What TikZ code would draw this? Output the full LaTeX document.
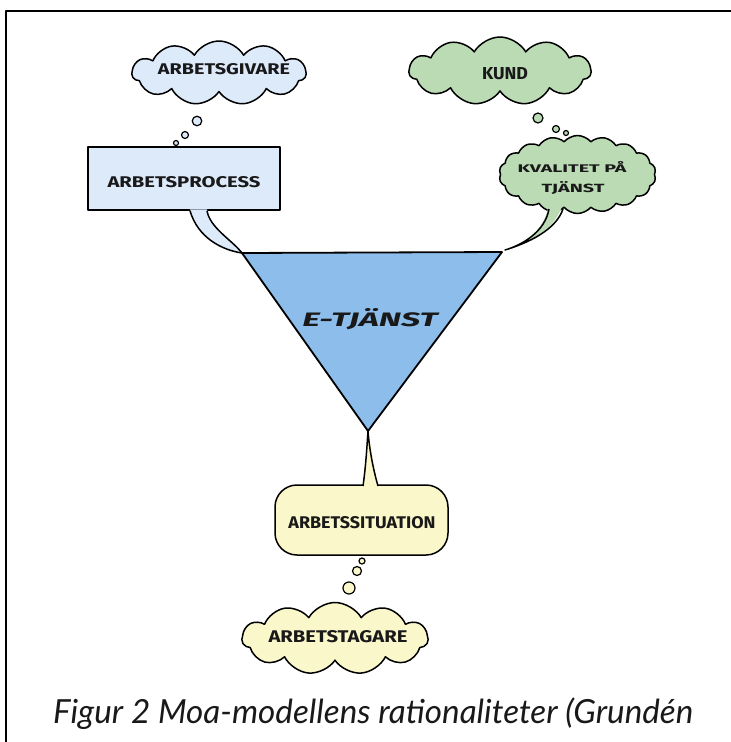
\documentclass[tikz,border=0pt]{standalone}
\usepackage{fontspec}
\usetikzlibrary{shapes.symbols,shapes.geometric,calc}
\newfontfamily\comicfont{Fira Sans}
\newfontfamily\capfont{Lato}
\definecolor{lblue}{RGB}{221,234,250}
\definecolor{mblue}{RGB}{140,189,235}
\definecolor{lgreen}{RGB}{187,219,180}
\definecolor{lyellow}{RGB}{250,247,202}
\newcommand{\lbl}[3]{\resizebox{#1pt}{#2pt}{\comicfont\bfseries #3}}
\begin{document}
\begin{tikzpicture}[x=1pt,y=-1pt,line join=round,
  outl/.style={draw=black,line width=1.5pt},
  cloudbox/.style={cloud,cloud ignores aspect,cloud puffs=#1,cloud puff arc=120,outl,inner sep=0pt},
  bub/.style={circle,draw=black,line width=1.2pt,inner sep=0pt},
  txt/.style={inner sep=0pt,text=black!90}]
\useasboundingbox (0,0) rectangle (731,742);
\draw[line width=2pt] (6,742) -- (6,11) -- (731,11);

% triangle
\coordinate (tA) at (242,253);
\coordinate (tB) at (502,252);
\coordinate (tC) at (368,431);

% ---- left: Arbetsgivare / Arbetsprocess
\node[cloudbox=11,fill=lblue,minimum width=174pt,minimum height=64pt] (cgiv) at (219,73) {};
\node[txt] (tgiv) at (224,69) {\lbl{132}{11}{ARBETSGIVARE}};
\node[bub,fill=lblue,minimum size=9.5pt] (g1) at (197,121) {};
\node[bub,fill=lblue,minimum size=7pt] (g2) at (185,135) {};
\node[bub,fill=lblue,minimum size=5pt] (g3) at (176,143) {};

\node[outl,fill=lblue,minimum width=192pt,minimum height=63pt,inner sep=0pt] (proc) at (184,178.5) {};
\node[txt] (tproc) at (184,182) {\lbl{153}{11}{ARBETSPROCESS}};
\coordinate (pl) at ($(proc.south)+(6,-1.5)$);
\coordinate (pr) at ($(proc.south)+(23,-1.5)$);
\fill[lblue] (pl) .. controls (198,238) and (222,250) .. (tA) .. controls (232,240) and (210,228) .. (pr) -- cycle;
\draw[outl] ($(pl)+(0,1.5)$) .. controls (198,238) and (222,250) .. (tA) .. controls (232,240) and (210,228) .. ($(pr)+(0,1.5)$);

% ---- right: Kund / Kvalitet
\node[cloudbox=11,fill=lgreen,minimum width=182pt,minimum height=68pt] (ckund) at (500,71) {};
\node[txt] (tkund) at (505,74) {\lbl{46}{12}{KUND}};
\node[bub,fill=lgreen,minimum size=10pt] (k1) at (538,118) {};
\node[bub,fill=lgreen,minimum size=7pt] (k2) at (556,129) {};
\node[bub,fill=lgreen,minimum size=5pt] (k3) at (566,133) {};

\node[cloud,cloud ignores aspect,cloud puffs=18,cloud puff arc=100,outl,inner sep=0pt,fill=lgreen,minimum width=157pt,minimum height=78pt] (ckval) at (577.5,174.5) {};
\node[txt] (tkval1) at (572,167) {\lbl{109}{11}{KVALITET PÅ}};
\node[txt] (tkval2) at (573,188) {\lbl{63}{11}{TJÄNST}};
\coordinate (kl) at (549,203);
\coordinate (kr) at (563,203);
\fill[lgreen] (kl) .. controls (545,232) and (522,245) .. (505,250) .. controls (528,243) and (556,230) .. (kr) -- cycle;
\draw[outl] (549,209) .. controls (545,232) and (522,245) .. (505,250) .. controls (528,243) and (556,230) .. (563,209);

% ---- triangle
\draw[line width=1.8pt,fill=mblue] (tA) -- (tB) -- (tC) -- cycle;
\node[txt] (etj) at (370,319) {\resizebox{135pt}{18pt}{\comicfont\bfseries\itshape E-TJÄNST}};

% ---- bottom: Arbetssituation / Arbetstagare
\node[outl,fill=lyellow,rounded corners=22pt,minimum width=173pt,minimum height=70pt,inner sep=0pt] (sit) at (361.5,520) {};
\node[txt] (tsit) at (362,523) {\lbl{147}{12}{ARBETSSITUATION}};
\fill[lyellow] (tC) -- (363,487) -- (378,487) -- cycle;
\draw[outl] (363,486) .. controls (366,465) and (367,445) .. (tC) .. controls (369,445) and (372,465) .. (378,486);
\node[bub,fill=lyellow,minimum size=6pt] (s1) at (362,561) {};
\node[bub,fill=lyellow,minimum size=9pt] (s2) at (357,571) {};
\node[bub,fill=lyellow,minimum size=12pt] (s3) at (349,588) {};
\node[cloudbox=11,fill=lyellow,minimum width=186pt,minimum height=72pt] (ctag) at (335,638.5) {};
\node[txt] (ttag) at (338,637) {\lbl{139}{12}{ARBETSTAGARE}};

% ---- caption
\node[txt,anchor=base west] (cap) at (53,723) {\resizebox{640pt}{!}{\capfont\itshape\fontsize{29}{29}\selectfont Figur 2 Moa-modellens rationaliteter (Grundén}};
\end{tikzpicture}
\end{document}
